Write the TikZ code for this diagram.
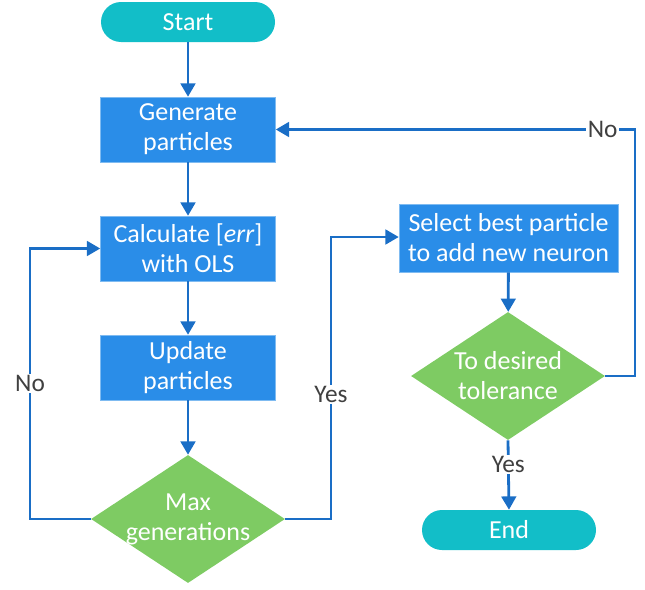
\documentclass[tikz,border=0pt]{standalone}
\usepackage{fontspec}
\setmainfont{Carlito}
\usetikzlibrary{shapes.geometric,arrows.meta}
\definecolor{boxblue}{HTML}{2A8DE8}
\definecolor{teal}{HTML}{12BEC8}
\definecolor{dgreen}{HTML}{7ECB63}
\definecolor{linec}{HTML}{1A6EC6}
\definecolor{lbl}{HTML}{404040}
\tikzset{
  base/.style={font=\fontsize{19.5}{22.5}\selectfont, text=white, align=center, inner sep=0pt},
  procbox/.style={base, fill=boxblue, draw=boxblue!60!white, line width=0.4pt, minimum width=175*0.75pt, minimum height=65*0.75pt},
  term/.style={base, fill=teal, rounded corners=15pt, minimum width=174*0.75pt, minimum height=40*0.75pt},
  decis/.style={fill=dgreen, diamond, aspect=1.5, minimum width=194*0.75pt, minimum height=128*0.75pt, inner sep=0pt},
  conn/.style={draw=linec, line width=2.1pt, -{Triangle[length=10pt,width=11pt]}},
  lab/.style={font=\fontsize{19}{20}\selectfont, text=lbl, fill=white, inner sep=1pt}
}
\begin{document}
\begin{tikzpicture}[x=0.75pt,y=-0.75pt]
\useasboundingbox (0,0) rectangle (645,589);
\node[term] (start) at (188,22) {Start};
\node[procbox] (gen) at (188,129.5) {Generate\\particles};
\node[procbox] (calc) at (188,248.5) {Calculate [\textit{err}]\\with OLS};
\node[procbox] (upd) at (188,367.5) {Update\\particles};
\node[decis] (maxg) at (188,519) {};
\node[base] (maxgt) at (maxg.center) {Max\\generations};
\node[procbox, minimum width=219*0.75pt, minimum height=68*0.75pt] (sel) at (508.5,238) {Select best particle\\to add new neuron};
\node[decis] (tol) at (508,376) {};
\node[base] (tolt) at (tol.center) {To desired\\tolerance};
\node[term] (end) at (509,530) {End};
\coordinate (cL1) at (30,519);
\coordinate (cL2) at (30,248.5);
\coordinate (cR1) at (331,519);
\coordinate (cR2) at (331,237);
\coordinate (cT1) at (635,376);
\coordinate (cT2) at (635,129.5);
\draw[conn] (start) -- (gen);
\draw[conn] (gen) -- (calc);
\draw[conn] (calc) -- (upd);
\draw[conn] (upd) -- (maxg);
\draw[conn] (maxg.west) -- (cL1) -- node[lab, pos=0.5] {No} (cL2) -- (calc.west);
\draw[conn] (maxg.east) -- (cR1) -- node[lab, pos=0.44] {Yes} (cR2) -- (sel.west |- cR2);
\draw[conn] (sel) -- (tol);
\draw[conn] (tol.east) -- (cT1) -- (cT2) -- node[lab, pos=0.09] {No} (gen.east);
\draw[conn] (tol.south) -- node[lab, pos=0.35] {Yes} (end.north);
\end{tikzpicture}
\end{document}
